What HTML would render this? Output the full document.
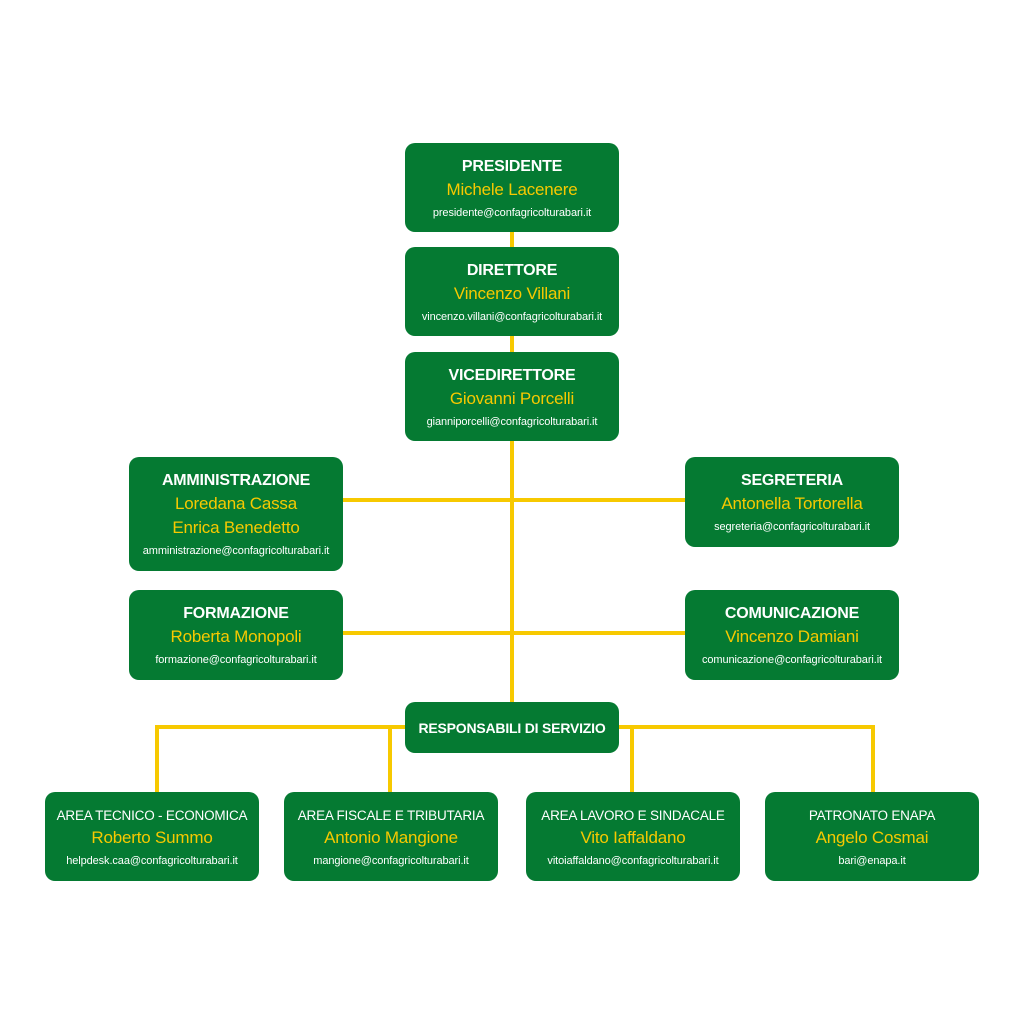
<!DOCTYPE html>
<html><head><meta charset="utf-8"><style>
body{margin:0;width:1024px;height:1024px;background:#fff;position:relative;overflow:hidden;font-family:"Liberation Sans",sans-serif}
.l{position:absolute;background:#f7c900}
.b{position:absolute;background:#057a32;border-radius:10px;display:flex;flex-direction:column;align-items:center;justify-content:center;text-align:center;color:#fff;box-sizing:border-box;padding-top:2px}
.t{font-size:16px;font-weight:bold;line-height:22px;letter-spacing:-0.2px}
.s{font-size:13.5px;line-height:20px;letter-spacing:-0.2px}
.n{font-size:17px;color:#f7c900;line-height:24px;letter-spacing:-0.2px}
.e{font-size:11px;line-height:18px;margin-top:2px;letter-spacing:-0.1px}
</style></head><body>
<div class="l" style="left:510px;top:230px;width:4px;height:474px"></div>
<div class="l" style="left:342px;top:498px;width:344px;height:4px"></div>
<div class="l" style="left:342px;top:631px;width:344px;height:4px"></div>
<div class="l" style="left:155px;top:725px;width:720px;height:4px"></div>
<div class="l" style="left:155px;top:725px;width:4px;height:68px"></div>
<div class="l" style="left:388px;top:725px;width:4px;height:68px"></div>
<div class="l" style="left:630px;top:725px;width:4px;height:68px"></div>
<div class="l" style="left:871px;top:725px;width:4px;height:68px"></div>

<div class="b" style="left:405px;top:143px;width:214px;height:89px"><div class="t">PRESIDENTE</div><div class="n">Michele Lacenere</div><div class="e">presidente@confagricolturabari.it</div></div>
<div class="b" style="left:405px;top:247px;width:214px;height:89px"><div class="t">DIRETTORE</div><div class="n">Vincenzo Villani</div><div class="e">vincenzo.villani@confagricolturabari.it</div></div>
<div class="b" style="left:405px;top:352px;width:214px;height:89px"><div class="t">VICEDIRETTORE</div><div class="n">Giovanni Porcelli</div><div class="e">gianniporcelli@confagricolturabari.it</div></div>
<div class="b" style="left:129px;top:457px;width:214px;height:114px"><div class="t">AMMINISTRAZIONE</div><div class="n">Loredana Cassa</div><div class="n">Enrica Benedetto</div><div class="e">amministrazione@confagricolturabari.it</div></div>
<div class="b" style="left:685px;top:457px;width:214px;height:90px"><div class="t">SEGRETERIA</div><div class="n">Antonella Tortorella</div><div class="e">segreteria@confagricolturabari.it</div></div>
<div class="b" style="left:129px;top:590px;width:214px;height:90px"><div class="t">FORMAZIONE</div><div class="n">Roberta Monopoli</div><div class="e">formazione@confagricolturabari.it</div></div>
<div class="b" style="left:685px;top:590px;width:214px;height:90px"><div class="t">COMUNICAZIONE</div><div class="n">Vincenzo Damiani</div><div class="e">comunicazione@confagricolturabari.it</div></div>
<div class="b" style="left:405px;top:702px;width:214px;height:51px;padding-top:0"><div class="t" style="font-size:14px">RESPONSABILI DI SERVIZIO</div></div>
<div class="b" style="left:45px;top:792px;width:214px;height:89px"><div class="s">AREA TECNICO - ECONOMICA</div><div class="n">Roberto Summo</div><div class="e">helpdesk.caa@confagricolturabari.it</div></div>
<div class="b" style="left:284px;top:792px;width:214px;height:89px"><div class="s">AREA FISCALE E TRIBUTARIA</div><div class="n">Antonio Mangione</div><div class="e">mangione@confagricolturabari.it</div></div>
<div class="b" style="left:526px;top:792px;width:214px;height:89px"><div class="s">AREA LAVORO E SINDACALE</div><div class="n">Vito Iaffaldano</div><div class="e">vitoiaffaldano@confagricolturabari.it</div></div>
<div class="b" style="left:765px;top:792px;width:214px;height:89px"><div class="s">PATRONATO ENAPA</div><div class="n">Angelo Cosmai</div><div class="e">bari@enapa.it</div></div>
</body></html>
